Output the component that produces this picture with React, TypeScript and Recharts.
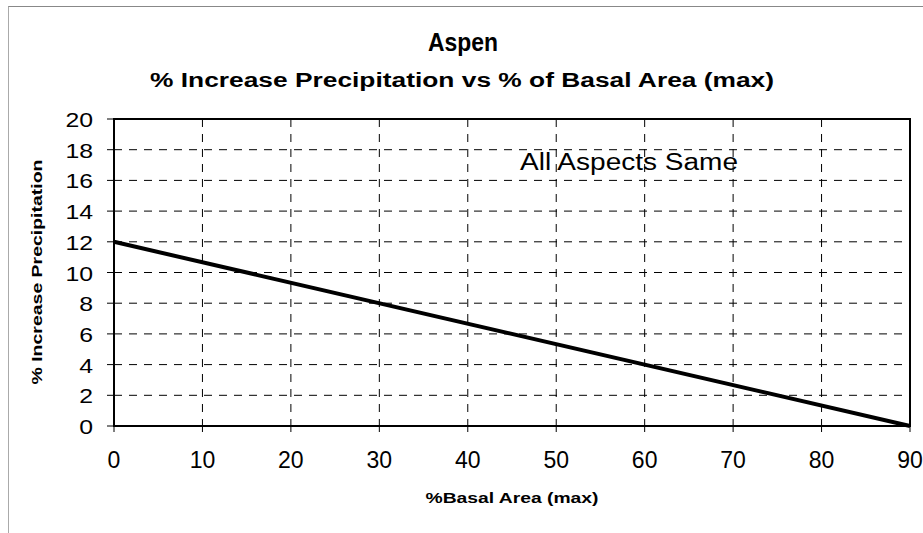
import React from 'react';
import { LineChart, Line, XAxis, YAxis, CartesianGrid, ReferenceArea } from 'recharts';

const basalArea = [0, 90];
const increasePrecip = [12, 0];
const xTicks = [0, 10, 20, 30, 40, 50, 60, 70, 80, 90];
const yTicks = [0, 2, 4, 6, 8, 10, 12, 14, 16, 18, 20];

const data = basalArea.map((x, i) => ({ x, y: increasePrecip[i] }));

const FONT = 'Arial, "Liberation Sans", Helvetica, sans-serif';

const XTick = (props: any) => {
  const { x, y, payload } = props;
  return (
    <text x={x} y={y} dy={34} textAnchor="middle" fontFamily={FONT} fontSize={23} fill="#000">
      {payload.value}
    </text>
  );
};

const YTick = (props: any) => {
  const { x, y, payload } = props;
  const s = String(payload.value);
  return (
    <text x={x} y={y} dx={-12} dy={8} textAnchor="end" fontFamily={FONT} fontSize={21} fill="#000"
      textLength={s.length * 13.8} lengthAdjust="spacingAndGlyphs">
      {s}
    </text>
  );
};

export default function App() {
  return (
    <div style={{ position: 'absolute', left: 0, top: 0, width: 923, height: 533, overflow: 'hidden', background: '#fff' }}>
      <div style={{ position: 'absolute', left: 8, top: 6, width: 1000, height: 600, borderTop: '1px solid #888', borderLeft: '1px solid #aaa' }} />
      <div style={{ position: 'absolute', left: 0, top: 0 }}>
        <LineChart width={923} height={533} data={data} margin={{ top: 119, right: 13, bottom: 47, left: 0 }}>
          <text x={463} y={51} textAnchor="middle" fontFamily={FONT} fontWeight="bold" fontSize={26} textLength={70} lengthAdjust="spacingAndGlyphs">
            Aspen
          </text>
          <text x={462} y={87} textAnchor="middle" fontFamily={FONT} fontWeight="bold" fontSize={20} textLength={624} lengthAdjust="spacingAndGlyphs">
            % Increase Precipitation vs % of Basal Area (max)
          </text>
          <text x={512} y={503} textAnchor="middle" fontFamily={FONT} fontWeight="bold" fontSize={15} textLength={173} lengthAdjust="spacingAndGlyphs">
            %Basal Area (max)
          </text>
          <text x={42} y={272} textAnchor="middle" fontFamily={FONT} fontWeight="bold" fontSize={15} transform="rotate(-90 42 272)" textLength={225} lengthAdjust="spacingAndGlyphs">
            % Increase Precipitation
          </text>
          <text x={629} y={170} textAnchor="middle" fontFamily={FONT} fontSize={23} textLength={218} lengthAdjust="spacingAndGlyphs">
            All Aspects Same
          </text>
          <CartesianGrid stroke="#000" strokeDasharray="8 7" strokeWidth={1} />
          <XAxis
            dataKey="x"
            type="number"
            domain={[0, 90]}
            ticks={xTicks}
            interval={0}
            height={60}
            axisLine={{ stroke: '#000', strokeWidth: 2 }}
            tickLine={{ stroke: '#000', strokeWidth: 1 }}
            tickSize={6}
            tick={<XTick />}
          />
          <YAxis
            type="number"
            domain={[0, 20]}
            ticks={yTicks}
            interval={0}
            width={114}
            axisLine={{ stroke: '#000', strokeWidth: 2 }}
            tickLine={{ stroke: '#000', strokeWidth: 1 }}
            tickSize={7}
            tick={<YTick />}
          />
          <ReferenceArea x1={0} x2={90} y1={0} y2={20} stroke="#000" strokeWidth={2} fill="none" fillOpacity={0} />
          <Line type="linear" dataKey="y" stroke="#000" strokeWidth={4} dot={false} isAnimationActive={false} />
        </LineChart>
      </div>
    </div>
  );
}
